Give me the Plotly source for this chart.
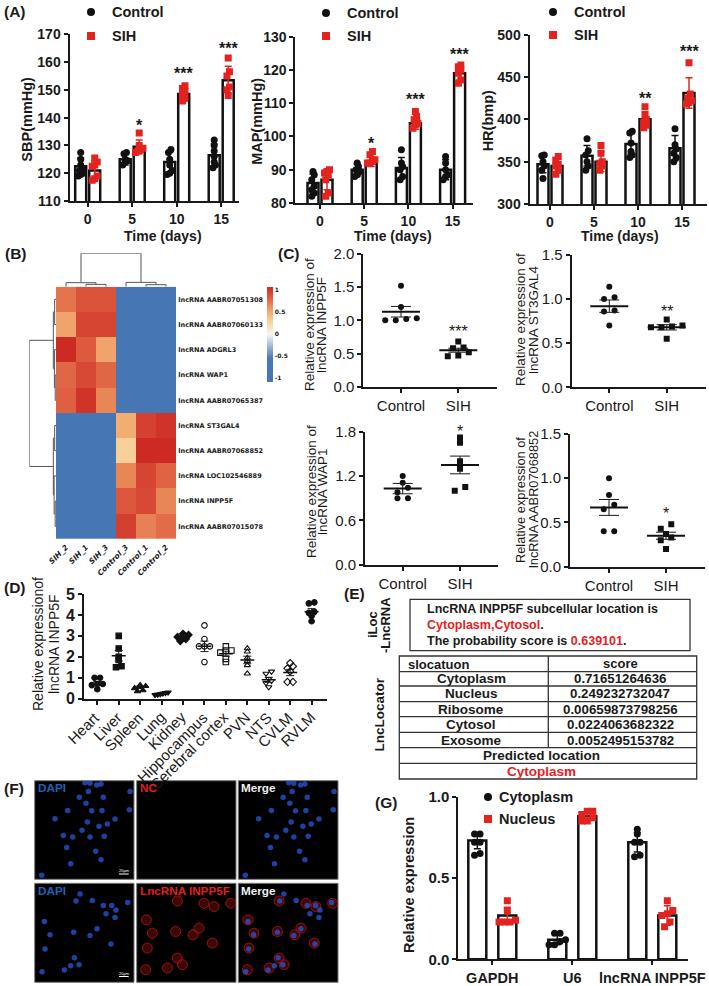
import plotly.graph_objects as go

W, H = 709, 986
FONT = "Liberation Sans"
INK = "#1a1a1a"
RED = "#e3231f"

# ---------- Panel A data ----------
days = ["0", "5", "10", "15"]
sbp_control = [[127.5,125,123,122,121,120,119.5,119],[127.5,127,125,124.5,124,123],[128.5,127.5,125,123,121,120,119.5],[132,130,128,126,124,123,122]]
sbp_sih = [[125.5,124,123,122.5,119,118,117.5],[134.5,130,129,128.5,128,127.5],[151.5,150.5,149.5,148,147,146],[161.5,156.5,155,151,150,148]]
sbp_control_mean = [122.5,125,124,126.5]
sbp_sih_mean = [121,129.5,148.5,153.5]
sbp_control_sd = [3,2,3.5,4]
sbp_sih_sd = [3.5,2.5,2.5,5]
map_control = [[89.5,88.5,87,85,84,83,82],[92,91,90,89.5,88.5,88],[96,92,91,90,88,87],[94,92,90,88.5,88,87]]
map_sih = [[90,89.5,89,88.5,87,83,82],[95.5,94.5,93,92.5,92,92],[107.5,106,105,104,103.5,102.5],[121.5,121,120,119,117,116]]
map_control_mean = [86,90,90.5,90]
map_sih_mean = [87,92.5,104,119]
map_control_sd = [2.7,1.8,3.2,3]
map_sih_sd = [3,1.5,1.8,2]
hr_control = [[358,357,350,345,340,330],[377,363,358,350,345,340],[386,384,372,362,358,355],[389,370,365,360,355,350]]
hr_sih = [[356,352,347,345,340,335],[369,360,350,348,345,340],[415,405,400,397,393,390],[467,430,425,422,420,418]]
hr_control_mean = [347,357,371,366]
hr_sih_mean = [345,350,400,431]
hr_control_sd = [10,12,12,15]
hr_sih_sd = [8,12,9,18]

# ---------- Panel B data ----------
samples = ["SIH_2","SIH_1","SIH_3","Control_3","Control_1","Control_2"]
lncrnas = ["lncRNA AABR07051308","lncRNA AABR07060133","lncRNA ADGRL3","lncRNA WAP1","lncRNA AABR07065387",
           "lncRNA ST3GAL4","lncRNA AABR07068852","lncRNA LOC102546889","lncRNA INPP5F","lncRNA AABR07015078"]
heat_values = [[0.75,0.88,0.88,-1,-1,-1],[0.55,0.95,0.95,-1,-1,-1],[1.08,0.85,0.55,-1,-1,-1],[0.8,0.93,0.8,-1,-1,-1],[0.83,1.03,0.68,-1,-1,-1],
               [-1,-1,-1,0.5,0.97,1.03],[-1,-1,-1,0.3,1.08,1.08],[-1,-1,-1,0.68,0.95,0.82],[-1,-1,-1,0.87,0.93,0.68],[-1,-1,-1,0.98,0.7,0.78]]
col_tree = ((0,(1,2,0.07),0.12),(3,(4,5,0.06),0.13),1.0)
row_tree = (((0,1,0.05),(2,(3,4,0.03),0.06),0.1),((5,6,0.05),(7,(8,9,0.03),0.07),0.1),1.0)

# ---------- Panel C data ----------
groups2 = ["Control","SIH"]
c1_control = [1.52,1.2,1.03,1.0,1.0,1.02]; c1_sih = [0.68,0.58,0.59,0.52,0.46,0.47]
c2_control = [1.14,1.0,1.02,0.86,0.7,0.87]; c2_sih = [0.77,0.68,0.7,0.68,0.69,0.55]
c3_control = [1.2,1.11,1.04,0.98,0.9,0.9]; c3_sih = [1.72,1.65,1.4,1.3,1.05,1.0]
c4_control = [1.0,0.81,0.7,0.65,0.4,0.4]; c4_sih = [0.48,0.43,0.37,0.33,0.3,0.2]
c_means = [[1.13,0.55],[0.92,0.68],[1.03,1.35],[0.67,0.35]]
c_sems = [[0.08,0.03],[0.07,0.03],[0.07,0.12],[0.09,0.04]]

# ---------- Panel D data ----------
tissues = ["Heart","Liver","Spleen","Lung","Kidney","Hippocampus","Cerebral cortex","PVN","NTS","CVLM","RVLM"]
tissue_points = [[1.0,1.0,0.7,0.65,0.7,0.45],[3.0,2.4,2.0,1.85,1.55,1.5],[0.65,0.6,0.55,0.5,0.4,0.35],[0.3,0.28,0.25,0.22,0.2,0.18],
                 [3.1,3.05,3.0,2.95,2.85,2.75],[3.5,2.85,2.5,2.5,2.5,1.75],[2.5,2.3,2.3,2.2,1.9,1.75],[2.4,2.25,1.95,1.8,1.6,1.2],
                 [1.3,1.2,0.95,0.85,0.75,0.55],[1.7,1.55,1.45,1.3,0.8,0.8],[4.6,4.55,4.15,4.1,3.95,3.7]]
tissue_means = [0.72,2.05,0.55,0.24,2.95,2.5,2.15,1.85,0.9,1.25,4.15]
tissue_sems = [0.1,0.25,0.05,0.02,0.06,0.25,0.12,0.18,0.12,0.15,0.15]
tissue_symbols = ["circle","square","triangle-up","triangle-down","diamond","circle-open","square-open","triangle-up-open","triangle-down-open","diamond-open","circle"]

# ---------- Panel E data ----------
loc_names = ["Cytoplasm","Nucleus","Ribosome","Cytosol","Exosome"]
loc_scores = ["0.71651264636","0.249232732047","0.00659873798256","0.0224063682322","0.0052495153782"]

# ---------- Panel F data (marks read in picture pixels) ----------
nc_nuclei_x = [161,134,206,154,99,171,202,61,158,241,193,218,142,86,114,166,209,96,183,199,108,21,286,284,151,166,186,199]
nc_nuclei_y = [33,50,50,68,90,91,90,115,125,116,138,131,150,166,170,170,168,202,213,239,251,286,33,88,6,8,13,10]
inpp_nuclei_x = [136,124,173,206,231,244,214,241,279,29,46,117,166,187,229,31,119,108,133,89,22]
inpp_nuclei_y = [32,53,52,67,67,80,92,103,58,115,155,147,157,137,183,198,224,248,245,261,266]
inpp_cyto_x = [29,47,32,122,117,169,187,122,137,27,92,227,202,232,282]
inpp_cyto_y = [110,150,195,53,145,155,135,225,245,260,255,180,60,70,60]

# ---------- Panel G data ----------
genes = ["GAPDH","U6","lncRNA INPP5F"]
g_cyto = [[0.77,0.77,0.72,0.72,0.65,0.64],[0.16,0.16,0.12,0.11,0.09,0.09],[0.80,0.77,0.72,0.72,0.64,0.63]]
g_nuc = [[0.36,0.30,0.24,0.23,0.23,0.23],[0.91,0.91,0.89,0.87,0.85,0.85],[0.36,0.30,0.28,0.27,0.23,0.20]]
g_cyto_mean = [0.73,0.12,0.72]
g_nuc_mean = [0.27,0.88,0.27]
g_cyto_sd = [0.05,0.03,0.06]
g_nuc_sd = [0.05,0.025,0.06]

fig = go.Figure()
layout = {}
annos = []
shapes = []
axis_no = [0]


def px(x):
    return x / W


def py(y):
    return 1 - y / H


def add_axes(x0, x1, ybot, ytop, xr, yr, xopts=None, yopts=None, visible=True):
    axis_no[0] += 1
    n = axis_no[0]
    base = dict(showgrid=False, zeroline=False, showline=visible, linecolor=INK, linewidth=2,
                ticks="outside" if visible else "", ticklen=4, tickwidth=2, tickcolor=INK,
                showticklabels=visible, tickfont=dict(family=FONT, size=15, color=INK), fixedrange=True)
    xa = dict(base, domain=[px(x0), px(x1)], range=xr, anchor=f"y{n}")
    ya = dict(base, domain=[py(ybot), py(ytop)], range=yr, anchor=f"x{n}")
    xa.update(xopts or {})
    ya.update(yopts or {})
    layout[f"xaxis{n}"] = xa
    layout[f"yaxis{n}"] = ya
    return f"x{n}", f"y{n}"


def text(x, y, s, size=14, bold=False, color=INK, anchor="center", angle=0, family=FONT):
    annos.append(dict(xref="paper", yref="paper", x=px(x), y=py(y), text=s, showarrow=False, xanchor=anchor,
                      yanchor="middle", textangle=angle, align="center",
                      font=dict(family=family, size=size, color=color, weight=700 if bold else 400)))


def swarm(vals, step, tol, span=None):
    """Spread points with close values side by side, centred, as a column scatter does."""
    order = sorted(range(len(vals)), key=lambda i: vals[i])
    off = [0.0] * len(vals)
    i = 0
    while i < len(order):
        j = i
        while j + 1 < len(order) and vals[order[j + 1]] - vals[order[i]] <= tol:
            j += 1
        n = j - i + 1
        st = step if span is None or n < 2 else min(step, span / (n - 1))
        for k in range(n):
            off[order[i + k]] = (k - (n - 1) / 2) * st
        i = j + 1
    return off


def bar_panel(xa, ya, centers, means, sds, pts, color, symbol, bw, step, tol, msize=7, lw=2.5, ew=1.5):
    fig.add_trace(go.Bar(x=centers, y=means, width=bw, marker=dict(color="white", line=dict(color="#111", width=lw)),
                         xaxis=xa, yaxis=ya))
    xs, ys = [], []
    for c, p in zip(centers, pts):
        xs += [c + o for o in swarm(p, step, tol)]
        ys += p
    fig.add_trace(go.Scatter(x=xs, y=ys, mode="markers", xaxis=xa, yaxis=ya,
                             marker=dict(color=color, symbol=symbol, size=msize)))
    fig.add_trace(go.Scatter(x=centers, y=means, mode="markers", xaxis=xa, yaxis=ya, marker=dict(size=1, color=color),
                             error_y=dict(type="data", array=sds, color=color, thickness=ew, width=3.5)))


def panel_a(axis_x, tick0, spacing, xend, ytop, ybot, yr, dtick, title, title_x, ctl, sih, cm, sm, csd, ssd, stars, legx, legy, time_x):
    xr = [(axis_x - tick0) / spacing, (xend - tick0) / spacing]
    xa, ya = add_axes(axis_x, xend, ybot, ytop, xr, yr,
                      dict(tickvals=list(range(4)), ticktext=days, tickfont=dict(family=FONT, size=14, color=INK, weight=700)),
                      dict(dtick=dtick, tickfont=dict(family=FONT, size=14, color=INK, weight=700)))
    off = 7 / spacing
    bw = 11 / spacing
    idx = list(range(4))
    bar_panel(xa, ya, [i - off for i in idx], cm, csd, ctl, "#111", "circle", bw, 2.5 / spacing, (yr[1] - yr[0]) * 0.03)
    bar_panel(xa, ya, [i + off for i in idx], sm, ssd, sih, RED, "square", bw, 2.5 / spacing, (yr[1] - yr[0]) * 0.03)
    for i, y, s in stars:
        annos.append(dict(xref=xa, yref=ya, x=i + off, y=y, text=s, showarrow=False, yanchor="middle",
                          font=dict(family=FONT, size=16, color=INK, weight=700)))
    text(title_x, (ytop + ybot) / 2 + 2, title, 14.5, True, angle=-90)
    text(time_x, 235.5, "Time (days)", 14, True)
    text(legx + 19, legy[0], "Control", 14.5, True, anchor="left")
    text(legx + 19, legy[1], "SIH", 14.5, True, anchor="left")
    return legx, legy


legend_pts = []
legend_pts.append(panel_a(69.5, 87.7, 44.5, 239, 34.3, 201, [110, 170], 10, "SBP(mmHg)", 27,
        sbp_control, sbp_sih, sbp_control_mean, sbp_sih_mean, sbp_control_sd, sbp_sih_sd,
        [(1, 137, "*"), (2, 156, "***"), (3, 165, "***")], 91, (12, 36), 163))
legend_pts.append(panel_a(295.4, 320, 44.2, 473, 36.7, 203, [80, 130], 10, "MAP(mmHg)", 257,
        map_control, map_sih, map_control_mean, map_sih_mean, map_control_sd, map_sih_sd,
        [(1, 98, "*"), (2, 111, "***"), (3, 124.5, "***")], 326, (13, 36), 393))
legend_pts.append(panel_a(529.5, 550, 44, 707, 34.7, 204, [300, 500], 50, "HR(bmp)", 488,
        hr_control, hr_sih, hr_control_mean, hr_sih_mean, hr_control_sd, hr_sih_sd,
        [(2, 425, "**"), (3, 480, "***")], 553, (12, 35), 620))

# page-wide overlay axis for legend keys
ov_x, ov_y = add_axes(0, W, H, 0, [0, W], [H, 0], visible=False)
fig.add_trace(go.Scatter(x=[p[0] for p in legend_pts] + [488], y=[p[1][0] for p in legend_pts] + [797], mode="markers",
                         xaxis=ov_x, yaxis=ov_y, marker=dict(color="#111", symbol="circle", size=8)))
fig.add_trace(go.Scatter(x=[p[0] for p in legend_pts] + [488], y=[p[1][1] for p in legend_pts] + [819], mode="markers",
                         xaxis=ov_x, yaxis=ov_y, marker=dict(color=RED, symbol="square", size=8)))

# ---------- Panel B ----------
hx0, hx1, hy0, hy1 = 56, 176, 286.7, 539
zmin, zmax = -1.09, 1.08
stops = [(-1.09, "#4575b4"), (-0.55, "#4a78b5"), (0, "#f7f7f2"), (0.35, "#f7c98a"), (0.6, "#ee9a62"), (0.85, "#dd5a3e"), (1.08, "#cc2a23")]
cs = [[(v - zmin) / (zmax - zmin), c] for v, c in stops]
hx, hy = add_axes(hx0, hx1, hy1, hy0, [-0.5, 5.5], [9.5, -0.5],
                  dict(showline=False, ticklen=0, tickvals=list(range(6)), ticktext=samples, tickangle=-45,
                       tickfont=dict(family="DejaVu Sans", size=7.5, color=INK, weight=700, style="italic")),
                  dict(showline=False, ticklen=0, tickvals=list(range(10)), ticktext=lncrnas, side="right",
                       tickfont=dict(family="DejaVu Sans", size=6.5, color=INK, weight=700)))
fig.add_trace(go.Heatmap(z=heat_values, x=list(range(6)), y=list(range(10)), zmin=zmin, zmax=zmax, colorscale=cs,
                         xaxis=hx, yaxis=hy, xgap=0, ygap=0,
                         colorbar=dict(x=px(267), xanchor="left", y=py(286.7), yanchor="top", len=95 / H, lenmode="fraction",
                                       thickness=6, thicknessmode="pixels", outlinewidth=0, ticks="",
                                       tickvals=[1, 0.5, 0, -0.5, -1], ticktext=["1", "0.5", "0", "-0.5", "-1"],
                                       tickfont=dict(family="DejaVu Sans", size=6, color=INK, weight=700), xpad=0, ypad=0)))


def tree_paths(node):
    """Returns leaf position, height and path segments of a nested merge tree."""
    if isinstance(node, int):
        return node, 0.0, []
    a, b, h = node
    pa, ha, sa = tree_paths(a)
    pb, hb, sb = tree_paths(b)
    return (pa + pb) / 2, h, sa + sb + [([pa, pa, pb, pb], [ha, h, h, hb])]


_, _, col_seg = tree_paths(col_tree)
_, _, row_seg = tree_paths(row_tree)
cx, cy = add_axes(hx0, hx1, hy0, 253.3, [-0.5, 5.5], [0, 1], visible=False)
for p, h in col_seg:
    fig.add_trace(go.Scatter(x=p, y=h, mode="lines", xaxis=cx, yaxis=cy, line=dict(color="#555", width=1)))
rx, ry = add_axes(29.3, hx0, hy1, hy0, [1, 0], [9.5, -0.5], visible=False)
for p, h in row_seg:
    fig.add_trace(go.Scatter(x=h, y=p, mode="lines", xaxis=rx, yaxis=ry, line=dict(color="#555", width=1)))


# ---------- Panel C ----------
def scatter_panel(axis_x, xend, t0, t1, ytop, ybot, yr, tickvals, ticktext, ctl, sih, mean, sem, star, titles, title_xs, title_y, title_size=13.5):
    sp = t1 - t0
    xr = [(axis_x - t0) / sp, (xend - t0) / sp]
    xa, ya = add_axes(axis_x, xend, ybot, ytop, xr, yr, dict(tickvals=[0, 1], ticktext=groups2),
                      dict(tickvals=tickvals, ticktext=ticktext))
    tol = (yr[1] - yr[0]) * 0.035
    for i, (p, s) in enumerate(zip((ctl, sih), ("circle", "square"))):
        fig.add_trace(go.Scatter(x=[i + o for o in swarm(p, 10.5 / sp, tol)], y=p, mode="markers", xaxis=xa, yaxis=ya,
                                 marker=dict(color="#111", symbol=s, size=6)))
    fig.add_trace(go.Scatter(x=[0, 1], y=mean, mode="markers", xaxis=xa, yaxis=ya, marker=dict(size=1, color="#111"),
                             error_y=dict(type="data", array=sem, color=INK, thickness=1, width=10),
                             error_x=dict(type="constant", value=19 / sp, color="#111", thickness=2, width=0)))
    annos.append(dict(xref=xa, yref=ya, x=star[0], y=star[1], text=star[2], showarrow=False, yanchor="middle",
                      font=dict(family=FONT, size=16, color=INK)))
    for t, tx in zip(titles, title_xs):
        text(tx, title_y, t, title_size, angle=-90)


scatter_panel(363.3, 496.7, 401, 458.3, 254, 386.7, [0, 2], [0, .5, 1, 1.5, 2], ["0.0", "0.5", "1.0", "1.5", "2.0"],
              c1_control, c1_sih, c_means[0], c_sems[0], (1, 0.83, "***"), ["Relative expression of", "lncRNA INPP5F"], (310, 322), 325)
scatter_panel(571.7, 705.7, 609.3, 666.7, 255, 387.3, [0, 1.5], [0, .5, 1, 1.5], ["0.0", "0.5", "1.0", "1.5"],
              c2_control, c2_sih, c_means[1], c_sems[1], (1, 0.86, "**"), ["Relative expression of", "lncRNA ST3GAL4"], (520, 533), 320)
scatter_panel(365, 498, 402.7, 460, 431.7, 564.7, [0, 1.8], [0, .6, 1.2, 1.8], ["0.0", "0.6", "1.2", "1.8"],
              c3_control, c3_sih, c_means[2], c_sems[2], (1, 1.8, "*"), ["Relative expression of", "lncRNA WAP1"], (312, 323), 492)
scatter_panel(570, 705, 609, 666, 434, 566.7, [0, 1.5], [0, .5, 1, 1.5], ["0.0", "0.5", "1.0", "1.5"],
              c4_control, c4_sih, c_means[3], c_sems[3], (1, 0.6, "*"), ["Relative expression of", "lncRNA AABR07068852"], (520, 533), 500, 12.8)

# ---------- Panel D ----------
dsp = 21.43
dxa, dya = add_axes(84, 326.7, 698.7, 594, [(84 - 97.3) / dsp, (326.7 - 97.3) / dsp], [0, 5],
                    dict(tickvals=list(range(11)), ticktext=[""] * 11),
                    dict(dtick=1, tickfont=dict(family=FONT, size=16, color=INK, weight=700)))
for i, name in enumerate(tissues):
    annos.append(dict(xref=dxa, yref=dya, x=i, y=0, yshift=-7, xshift=9, text=name, showarrow=False, textangle=-45,
                      xanchor="right", yanchor="top", font=dict(family=FONT, size=15, color=INK)))
for i, (vals, sym) in enumerate(zip(tissue_points, tissue_symbols)):
    fig.add_trace(go.Scatter(x=[i + o for o in swarm(vals, 5.5 / dsp, 0.13, 13 / dsp)], y=vals, mode="markers", xaxis=dxa, yaxis=dya,
                             marker=dict(color="#111", symbol=sym, size=5.5, line=dict(width=1.1, color="#111"))))
fig.add_trace(go.Scatter(x=list(range(11)), y=tissue_means, mode="markers", xaxis=dxa, yaxis=dya, marker=dict(size=1, color="#111"),
                         error_y=dict(type="data", array=tissue_sems, color=INK, thickness=1, width=4),
                         error_x=dict(type="constant", value=7 / dsp, color="#111", thickness=1.5, width=0)))
annos.append(dict(xref=dxa, yref=dya, x=10, y=5.35, text="###", showarrow=False, yanchor="middle",
                  font=dict(family=FONT, size=15, color=INK, weight=700)))
text(38, 644, "Relative expressionof", 14, angle=-90)
text(54, 644, "lncRNA INPP5F", 14, angle=-90)


# ---------- Panel E ----------
def rect(x0, y0, x1, y1, line="#333", w=1.3, fill=None, layer="above"):
    shapes.append(dict(type="rect", xref="paper", yref="paper", x0=px(x0), x1=px(x1), y0=py(y0), y1=py(y1),
                       line=dict(color=line, width=w), fillcolor=fill, layer=layer))


def hline(x0, x1, y):
    shapes.append(dict(type="line", xref="paper", yref="paper", x0=px(x0), x1=px(x1), y0=py(y), y1=py(y),
                       line=dict(color="#333", width=1.3)))


rect(410, 599.3, 690, 650.7)
text(425, 609, "LncRNA INPP5F subcellular location is", 12.5, True, anchor="left")
text(425, 625, "<span style='color:#e81c1c'>Cytoplasm,Cytosol</span>.", 12.5, True, anchor="left")
text(425, 641, "The probability score is <span style='color:#e81c1c'>0.639101</span>.", 12.5, True, anchor="left")
tx0, tx1, tmid = 399.3, 696.7, 548.3
rows_y = [656, 671.7, 686, 701.7, 716.7, 732.3, 747.7, 763.3, 779]
rect(tx0, rows_y[0], tx1, rows_y[-1])
for y in rows_y[1:-1]:
    hline(tx0, tx1, y)
shapes.append(dict(type="line", xref="paper", yref="paper", x0=px(tmid), x1=px(tmid), y0=py(rows_y[0]), y1=py(rows_y[6]),
                   line=dict(color="#333", width=1.3)))
text(406, 664, "slocatuon", 13, True, anchor="left")
text(620, 663.5, "score", 13, True)
for i, (n, s) in enumerate(zip(loc_names, loc_scores)):
    yc = (rows_y[i + 1] + rows_y[i + 2]) / 2
    text(471, yc, n, 13.5, True)
    text(620, yc, s, 13.3, True)
text(541, 755.5, "Predicted location", 13.5, True)
text(541, 771, "Cytoplasm", 13.5, True, color="#e81c1c")
text(372, 625, "iLoc", 13, True, angle=-90)
text(385, 625, "-LncRNA", 13, True, angle=-90)
text(379, 714.5, "LncLocator", 13.5, True, angle=-90)

# ---------- Panel F ----------
panel_cols = [(34.7, 134), (136.7, 236), (238.3, 338)]
panel_rows = [(780.7, 879.3), (883.3, 982.3)]
BLUE = "#2b55d8"
for r, (y0, y1) in enumerate(panel_rows):
    for c, (x0, x1) in enumerate(panel_cols):
        rect(x0, y0, x1, y1, line="#777", w=1, fill="black", layer="below")
        xa, ya = add_axes(x0, x1, y1, y0, [0, 298], [298, 0], visible=False)
        if r == 0 and c != 1:
            fig.add_trace(go.Scatter(x=nc_nuclei_x, y=nc_nuclei_y, mode="markers", xaxis=xa, yaxis=ya,
                                     marker=dict(color=BLUE, size=5.5, opacity=0.75, line=dict(width=0))))
        if r == 1 and c != 0:
            fig.add_trace(go.Scatter(x=inpp_cyto_x, y=inpp_cyto_y, mode="markers", xaxis=xa, yaxis=ya,
                                     marker=dict(color="rgba(110,12,12,0.55)", size=10, line=dict(width=0.8, color="#b81515"))))
        if r == 1 and c != 1:
            fig.add_trace(go.Scatter(x=inpp_nuclei_x, y=inpp_nuclei_y, mode="markers", xaxis=xa, yaxis=ya,
                                     marker=dict(color=BLUE, size=5.5, opacity=0.75, line=dict(width=0))))
for y0 in (787.5, 890):
    text(36, y0, "DAPI", 11.7, True, color="#1766b8", anchor="left")
    text(238.5, y0, "Merge", 11.7, True, color="#f0f0f0", anchor="left")
text(137.5, 787.5, "NC", 11.7, True, color="#e02020", anchor="left")
text(137.5, 890, "LncRNA INPP5F", 11.7, True, color="#e02020", anchor="left")
for y in (874, 976.5):
    shapes.append(dict(type="line", xref="paper", yref="paper", x0=px(119), x1=px(128.7), y0=py(y), y1=py(y),
                       line=dict(color="white", width=1)))
    text(124, y - 3.5, "20μm", 4, color="white")

# ---------- Panel G ----------
gsp = 80
gxa, gya = add_axes(458.3, 688.3, 959.3, 796.7, [(458.3 - 492.3) / gsp, (688.3 - 492.3) / gsp], [0, 1],
                    dict(tickvals=[0, 1, 2], ticktext=genes, tickfont=dict(family=FONT, size=14.5, color=INK, weight=700)),
                    dict(dtick=0.5, tickformat=".1f", tickfont=dict(family=FONT, size=15, color=INK, weight=700)))
goff = 15 / gsp
bar_panel(gxa, gya, [i - goff for i in range(3)], g_cyto_mean, g_cyto_sd, g_cyto, "#111", "circle", 18 / gsp, 5.5 / gsp, 0.03, msize=7, lw=2.5)
bar_panel(gxa, gya, [i + goff for i in range(3)], g_nuc_mean, g_nuc_sd, g_nuc, RED, "square", 18 / gsp, 5.5 / gsp, 0.03, msize=7, lw=2.5)
text(497, 797, "Cytoplasm", 14.5, True, anchor="left")
text(497, 819, "Nucleus", 14.5, True, anchor="left")
text(409, 885, "Relative expression", 14.5, True, angle=-90)

# ---------- Panel letters ----------
for lab, x, y in [("(A)", 2, 12), ("(B)", 3, 254), ("(C)", 276, 253), ("(D)", 2, 587), ("(E)", 342, 593), ("(F)", 2, 788), ("(G)", 373, 802)]:
    text(x, y, lab, 15.5, True, anchor="left")

fig.update_layout(**layout)
fig.update_layout(width=W, height=H, margin=dict(l=0, r=0, t=0, b=0, autoexpand=False), paper_bgcolor="white", plot_bgcolor="rgba(0,0,0,0)",
                  showlegend=False, barmode="overlay", annotations=annos, shapes=shapes, font=dict(family=FONT, color=INK))
fig.write_html("out.html", config=dict(displayModeBar=False), post_script="document.body.style.margin='0';document.body.style.overflow='hidden';")
